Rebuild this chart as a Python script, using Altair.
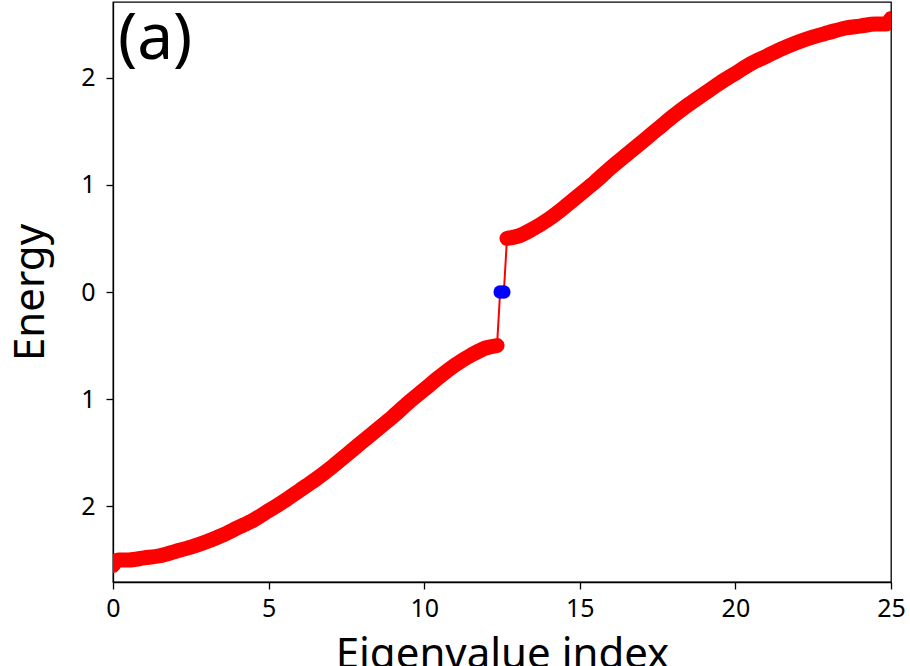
import altair as alt
import pandas as pd

# Eigenvalue spectrum: lower band, two zero-energy modes, upper band
lower_index = [0, 0.17, 0.5, 1.0, 1.5, 2.0, 2.5, 3.0, 3.5, 4.0, 4.5, 5.0, 5.5, 6.0,
               6.5, 7.0, 7.5, 8.0, 8.5, 9.0, 9.5, 10.0, 10.5, 11.0, 11.5, 12.0, 12.34]
lower_energy = [-2.55, -2.50, -2.50, -2.48, -2.46, -2.42, -2.38, -2.33, -2.27, -2.20,
                -2.13, -2.04, -1.95, -1.85, -1.75, -1.64, -1.52, -1.40, -1.28, -1.16,
                -1.03, -0.91, -0.79, -0.68, -0.59, -0.52, -0.50]

upper_index = [12.66, 13.0, 13.5, 14.0, 14.5, 15.0, 15.5, 16.0, 16.5, 17.0, 17.5, 18.0,
               18.5, 19.0, 19.5, 20.0, 20.5, 21.0, 21.5, 22.0, 22.5, 23.0, 23.5, 24.0,
               24.5, 24.83, 25.0]
upper_energy = [0.50, 0.52, 0.59, 0.68, 0.79, 0.91, 1.03, 1.16, 1.28, 1.40, 1.52, 1.64,
                1.75, 1.85, 1.95, 2.04, 2.13, 2.20, 2.27, 2.33, 2.38, 2.42, 2.46, 2.48,
                2.50, 2.50, 2.55]

zero_index = [12.44, 12.56]
zero_energy = [0.0, 0.0]

x_ticks = [0, 5, 10, 15, 20, 25]
y_ticks = [-2, -1, 0, 1, 2]

bands = pd.concat([
    pd.DataFrame({"idx": lower_index, "E": lower_energy, "branch": "lower"}),
    pd.DataFrame({"idx": upper_index, "E": upper_energy, "branch": "upper"}),
])
zeros = pd.DataFrame({"idx": zero_index, "E": zero_energy, "branch": "zero"})
spectrum = pd.concat([bands, zeros]).sort_values("idx").reset_index(drop=True)
spectrum["order"] = range(len(spectrum))

FONT = "Noto Sans"

x_enc = alt.X("idx:Q", scale=alt.Scale(domain=[0, 25], nice=False, zero=False),
              axis=alt.Axis(values=x_ticks, title="Eigenvalue index", format="d",
                            labelFlush=False, labelOverlap=False,
                            titleX=389, titleY=85, titleBaseline="alphabetic",
                            titleAlign="center", titleAnchor="middle"))
y_enc = alt.Y("E:Q", scale=alt.Scale(domain=[-2.705, 2.705], nice=False, zero=False),
              axis=alt.Axis(values=y_ticks, title="Energy",
                            labelExpr="'' + abs(datum.value)",
                            labelFlush=False, labelOverlap=False, labelPadding=11,
                            titleX=-70, titleY=290, titleAngle=-90,
                            titleBaseline="alphabetic", titleAlign="center",
                            titleAnchor="middle"))

base = alt.Chart(spectrum).encode(x=x_enc, y=y_enc)

# thin connecting line through every eigenvalue
thin = base.mark_line(color="#ff0000", strokeWidth=2, clip=True).encode(
    order="order:Q")

# dense markers along each band
band_line = alt.Chart(bands).mark_line(
    color="#ff0000", strokeWidth=15, strokeCap="round", strokeJoin="round",
    interpolate="monotone", clip=True
).encode(x="idx:Q", y="E:Q", detail="branch:N", order="idx:Q")

band_pts = alt.Chart(bands).mark_circle(
    color="#ff0000", size=180, opacity=1, clip=True
).encode(x="idx:Q", y="E:Q")

zero_pts = alt.Chart(zeros).mark_circle(
    color="#0000ff", size=180, opacity=1, clip=True
).encode(x="idx:Q", y="E:Q")

label = alt.Chart(pd.DataFrame({"idx": [0.16], "E": [2.17], "t": ["(a)"]})).mark_text(
    align="left", baseline="alphabetic", font=FONT, fontSize=64, color="black"
).encode(x="idx:Q", y="E:Q", text="t:N")

chart = alt.layer(thin, band_line, band_pts, zero_pts, label).properties(
    width=778, height=580,
    autosize=alt.AutoSizeParams(type="none"),
    padding={"left": 113, "top": 2, "right": 19, "bottom": 84},
    background="white",
).configure_view(
    stroke="black", strokeWidth=1.3
).configure_axis(
    grid=False, domainColor="black", domainWidth=1.3, tickColor="black",
    tickSize=7, tickWidth=1.3, labelFont=FONT, labelFontSize=25, labelColor="black",
    labelPadding=7, titleFont=FONT, titleFontSize=42, titleFontWeight="normal",
    titleColor="black"
)

chart.save("out.html", embed_options={"renderer": "svg", "actions": False})
